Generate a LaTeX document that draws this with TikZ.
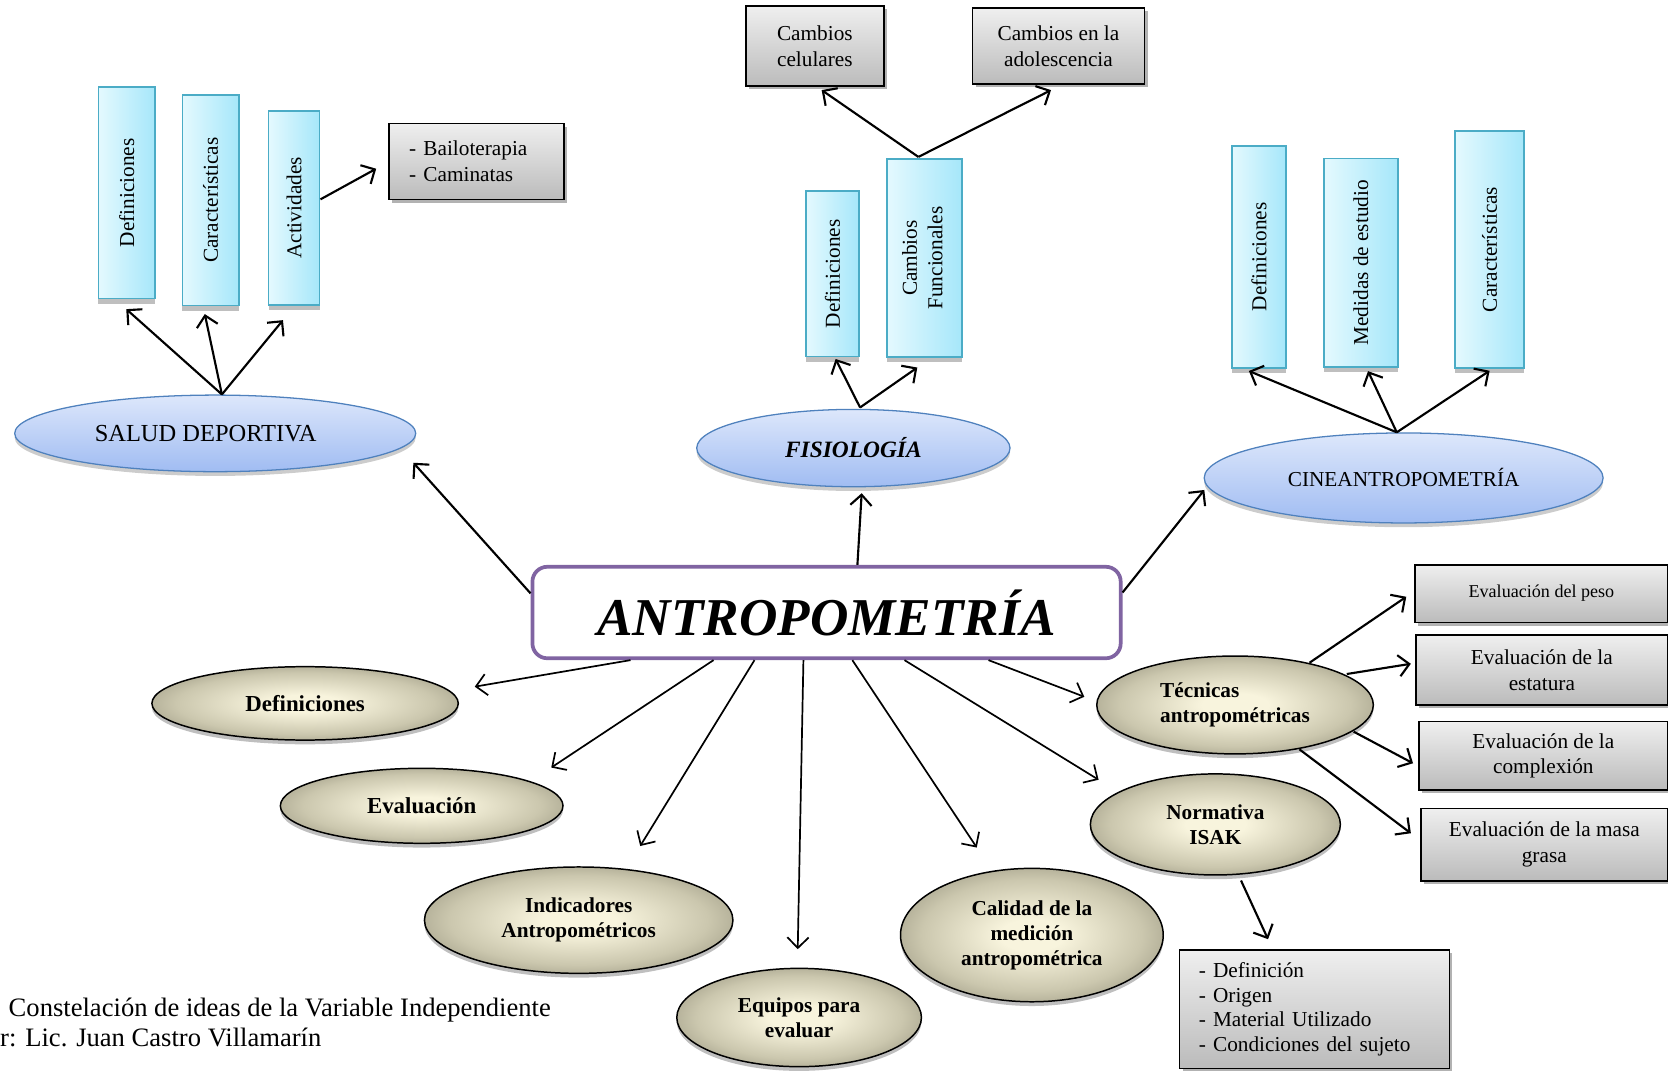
\documentclass[tikz,border=0pt]{standalone}
\usepackage{fontspec}
\setmainfont{Liberation Serif}
\usetikzlibrary{arrows.meta,shapes.geometric,shadows}

\definecolor{cyanL}{HTML}{E4F9FE}
\definecolor{cyanR}{HTML}{A6E7FA}
\definecolor{cyanB}{HTML}{4BACC6}
\definecolor{blueT}{HTML}{DDE7FB}
\definecolor{blueB}{HTML}{A0BCF2}
\definecolor{blueE}{HTML}{4F81BD}
\definecolor{grayT}{HTML}{EFEFEF}
\definecolor{grayB}{HTML}{BBBBBB}
\definecolor{kcream}{HTML}{F8F4DD}
\definecolor{kmid}{HTML}{CBC7AE}
\definecolor{kedge}{HTML}{85826E}
\definecolor{purp}{HTML}{8064A2}

% cream centre fading to olive grey at the rim (rim of the ellipse sits near 35bp)
\pgfdeclareradialshading{khaki}{\pgfpoint{0bp}{0bp}}{color(0bp)=(kcream); color(6bp)=(kcream); color(21bp)=(kmid); color(35bp)=(kedge); color(50bp)=(kedge)}

\tikzset{
  bar/.style={rectangle, draw=cyanB, line width=1.5pt, left color=cyanL, right color=cyanR,
    inner sep=0pt, font=\fontsize{20}{24}\selectfont,
    drop shadow={shadow xshift=0pt, shadow yshift=-5pt, opacity=.5, fill=black!50}},
  topic/.style={ellipse, draw=blueE, line width=1.2pt, top color=blueT, bottom color=blueB,
    inner sep=0pt, drop shadow={shadow xshift=0pt, shadow yshift=-4pt, opacity=.2, fill=black}},
  leaf/.style={ellipse, draw=black, line width=1.4pt, shade, shading=khaki, inner sep=0pt,
    align=center, font=\bfseries\fontsize{20}{23.5}\selectfont,
    drop shadow={shadow xshift=0pt, shadow yshift=-4pt, opacity=.25, fill=black}},
  note/.style={rectangle, draw=black, line width=1.5pt, top color=grayT, bottom color=grayB,
    inner sep=0pt, align=center, font=\fontsize{20}{24}\selectfont,
    drop shadow={shadow xshift=3pt, shadow yshift=-3pt, opacity=.3, fill=black}},
  arr/.style={line width=2pt, -{Straight Barb[length=10pt,width=20pt]}},
  arrthin/.style={line width=1.6pt, -{Straight Barb[length=10pt,width=20pt]}},
}

\begin{document}
\begin{tikzpicture}[x=1pt, y=-1pt]
\useasboundingbox (0,0) rectangle (1568,1006);

% ---------- central node ----------
\node[draw=purp, line width=3.5pt, rounded corners=14pt, fill=white,
      minimum width=553pt, minimum height=86pt, inner sep=0pt,
      font=\bfseries\itshape\fontsize{50}{60}\selectfont] (antro) at (777,575.8) {ANTROPOMETRÍA};

% ---------- Salud deportiva ----------
\node[topic, minimum width=377pt, minimum height=72pt, font=\fontsize{23}{26}\selectfont] (salud) at (202.3,407.4) {SALUD DEPORTIVA\hspace*{18pt}};
\node[bar, minimum width=53.2pt, minimum height=198.5pt] (sdef) at (119.1,181.3) {\rotatebox{90}{Definiciones}};
\node[bar, minimum width=53pt, minimum height=198pt] (scar) at (198,188.3) {\rotatebox{90}{Características}};
\node[bar, minimum width=48pt, minimum height=182.4pt] (sact) at (276.5,195.5) {\rotatebox{90}{Actividades}};
\node[note, minimum width=164.4pt, minimum height=71.4pt, text width=126pt, align=left] (bailo) at (447.7,151.7) {- Bailoterapia\\- Caminatas};

% ---------- Fisiologia ----------
\node[topic, minimum width=294.5pt, minimum height=72.7pt, font=\bfseries\itshape\fontsize{22}{24}\selectfont] (fisio) at (802.2,421.2) {FISIOLOGÍA};
\node[bar, minimum width=49.8pt, minimum height=156pt] (fdef) at (782.6,257.3) {\rotatebox{90}{Definiciones}};
\node[bar, minimum width=70.5pt, minimum height=186.3pt] (fcf) at (869,242.6) {\rotatebox{90}{\begin{tabular}{@{}c@{}}Cambios\\Funcionales\end{tabular}}};
\node[note, minimum width=130pt, minimum height=75.3pt] (cc) at (766,43.3) {Cambios\\celulares};
\node[note, minimum width=161.4pt, minimum height=71.2pt] (ca) at (995,43.4) {Cambios en la\\adolescencia};

% ---------- Cineantropometria ----------
\node[topic, minimum width=375pt, minimum height=84.6pt, font=\fontsize{20}{24}\selectfont] (cine) at (1319.5,449.3) {CINEANTROPOMETRÍA};
\node[bar, minimum width=51pt, minimum height=209pt] (cdef) at (1183.5,241.5) {\rotatebox{90}{Definiciones}};
\node[bar, minimum width=69.4pt, minimum height=196.3pt] (cmed) at (1279.3,247) {\rotatebox{90}{Medidas de estudio}};
\node[bar, minimum width=64.6pt, minimum height=223.2pt] (ccar) at (1400.3,234.5) {\rotatebox{90}{Características}};

% ---------- lower ellipses ----------
\node[leaf, minimum width=288pt, minimum height=69pt, font=\bfseries\fontsize{21.5}{24}\selectfont] (edef) at (286.8,661.2) {Definiciones};
\node[leaf, minimum width=265.7pt, minimum height=70.5pt, font=\bfseries\fontsize{21.5}{24}\selectfont] (eeval) at (396.4,757.5) {Evaluación};
\node[leaf, minimum width=290pt, minimum height=100pt] (eind) at (544,865) {Indicadores\\Antropométricos};
\node[leaf, minimum width=230pt, minimum height=92.4pt] (eequ) at (751.2,956.5) {Equipos para\\evaluar};
\node[leaf, minimum width=247pt, minimum height=125.4pt] (ecal) at (970,879) {Calidad de la\\medición\\antropométrica};
\node[leaf, minimum width=260pt, minimum height=92pt, align=left] (etec) at (1161,662.7) {Técnicas\\antropométricas};
\node[leaf, minimum width=235pt, minimum height=95pt] (eisak) at (1142.5,775) {Normativa\\ISAK};

% ---------- evaluation boxes ----------
\node[note, minimum width=238pt, minimum height=54pt, font=\fontsize{17}{20}\selectfont] (bpeso) at (1449,558) {Evaluación del peso};
\node[note, minimum width=236.2pt, minimum height=65.7pt] (best) at (1449.4,629.9) {Evaluación de la\\estatura};
\node[note, minimum width=233.5pt, minimum height=64.2pt] (bcom) at (1450.8,710.5) {Evaluación de la\\complexión};
\node[note, minimum width=231.7pt, minimum height=68.1pt] (bmas) at (1451.7,793.9) {Evaluación de la masa\\grasa};
\node[note, minimum width=253.8pt, minimum height=111.3pt, text width=217pt, align=left,
      font=\fontsize{20}{23}\selectfont] (blist) at (1235.5,948.7)
      {- Definición\\- Origen\\- Material Utilizado\\- Condiciones del sujeto};

% ---------- caption ----------
\node[anchor=base west, inner sep=0pt, font=\fontsize{25}{28}\selectfont] (cap1) at (8,956) {Constelación de ideas de la Variable Independiente};
\node[anchor=base west, inner sep=0pt, font=\fontsize{25}{28}\selectfont] (cap2) at (0,983.5) {r: Lic. Juan Castro Villamarín};

% ---------- connectors ----------
\draw[arr] ([yshift=18pt]antro.west) -- ([xshift=-2.8pt,yshift=-27.6pt]salud.east);
\draw[arr] ([xshift=29pt]antro.north) -- ([xshift=7.8pt,yshift=-5.5pt]fisio.south);
\draw[arr] ([yshift=18.8pt]antro.east) -- ([xshift=0.7pt,yshift=-11.3pt]cine.west);

\draw[arr] ([xshift=6.3pt]salud.north) -- ([xshift=-0.4pt,yshift=-9.3pt]sdef.south);
\draw[arr] ([xshift=6.3pt]salud.north) -- ([xshift=-5.5pt,yshift=-7.2pt]scar.south);
\draw[arr] ([xshift=6.3pt]salud.north) -- ([xshift=-10.5pt,yshift=-13.5pt]sact.south);
\draw[arr] ([yshift=8.1pt]sact.east) -- ([xshift=-11.1pt,yshift=-6.9pt]bailo.west);

\draw[arr] ([xshift=6.3pt,yshift=1.2pt]fisio.north) -- ([xshift=2.9pt,yshift=-1.4pt]fdef.south);
\draw[arr] ([xshift=6.3pt,yshift=1.2pt]fisio.north) -- ([xshift=-6.7pt,yshift=-9pt]fcf.south);
\draw[arr] ([xshift=-5.7pt,yshift=1.2pt]fcf.north) -- ([xshift=6.4pt,yshift=-3pt]cc.south);
\draw[arr] ([xshift=-5.7pt,yshift=1.2pt]fcf.north) -- ([xshift=-7pt,yshift=-5pt]ca.south);

\draw[arr] ([xshift=-6.5pt]cine.north) -- ([xshift=-9.5pt,yshift=-2pt]cdef.south);
\draw[arr] ([xshift=-6.5pt]cine.north) -- ([xshift=6.7pt,yshift=-3pt]cmed.south);
\draw[arr] ([xshift=-6.5pt]cine.north) -- ([yshift=-1.7pt]ccar.south);

\draw[arrthin] ([xshift=94pt]antro.south west) -- ([xshift=14.8pt,yshift=15.7pt]edef.east);
\draw[arrthin] ([xshift=172pt]antro.south west) -- ([xshift=121.8pt]eeval.north);
\draw[arrthin] ([xshift=210.5pt]antro.south west) -- ([xshift=57.8pt,yshift=19pt]eind.north);
\draw[arrthin] ([xshift=256.5pt]antro.south west) -- ([xshift=-1.3pt,yshift=17.3pt]eequ.north);
\draw[arrthin] ([xshift=302.5pt]antro.south west) -- ([xshift=-51.8pt,yshift=18.9pt]ecal.north);
\draw[arrthin] ([xshift=351.5pt]antro.south west) -- ([xshift=-109.8pt,yshift=42pt]eisak.center);
\draw[arrthin] ([xshift=430.5pt]antro.south west) -- ([xshift=-11pt,yshift=7.7pt]etec.west);

\draw[arr] ([xshift=70pt,yshift=39.7pt]etec.center) -- ([xshift=-7.3pt,yshift=-3pt]bpeso.west);
\draw[arr] ([xshift=105pt,yshift=29.1pt]etec.center) -- ([xshift=-4.3pt,yshift=5.9pt]best.west);
\draw[arr] ([xshift=111.5pt,yshift=-25.1pt]etec.center) -- ([xshift=-5pt,yshift=-7pt]bcom.west);
\draw[arr] ([xshift=60.5pt,yshift=-41.7pt]etec.center) -- ([xshift=-8.8pt,yshift=10.6pt]bmas.west);
\draw[arr] ([xshift=24.1pt,yshift=-4.5pt]eisak.south) -- ([xshift=-43.5pt,yshift=9.4pt]blist.north);
\end{tikzpicture}
\end{document}
